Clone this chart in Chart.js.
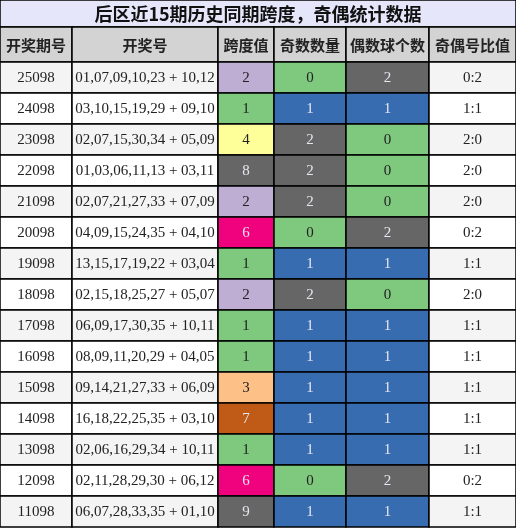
<!DOCTYPE html>
<html>
<head>
<meta charset="utf-8">
<script src="https://cdn.jsdelivr.net/npm/chart.js@4/dist/chart.umd.min.js"></script>
<style>body{margin:0;background:#fff}</style>
</head>
<body>
<canvas id="c" width="516" height="528"></canvas>
<script>
const title = '后区近15期历史同期跨度，奇偶统计数据';
const headers = ['开奖期号', '开奖号', '跨度值', '奇数数量', '偶数球个数', '奇偶号比值'];
const periods = ['25098','24098','23098','22098','21098','20098','19098','18098','17098','16098','15098','14098','13098','12098','11098'];
const draws = [
  '01,07,09,10,23 + 10,12','03,10,15,19,29 + 09,10','02,07,15,30,34 + 05,09',
  '01,03,06,11,13 + 03,11','02,07,21,27,33 + 07,09','04,09,15,24,35 + 04,10',
  '13,15,17,19,22 + 03,04','02,15,18,25,27 + 05,07','06,09,17,30,35 + 10,11',
  '08,09,11,20,29 + 04,05','09,14,21,27,33 + 06,09','16,18,22,25,35 + 03,10',
  '02,06,16,29,34 + 10,11','02,11,28,29,30 + 06,12','06,07,28,33,35 + 01,10'];
const spans = [2,1,4,8,2,6,1,2,1,1,3,7,1,6,9];
const odds  = [0,1,2,2,2,0,1,2,1,1,1,1,1,0,1];
const evens = [2,1,0,0,0,2,1,0,1,1,1,1,1,2,1];

// column edges and row edges in chart units (pixels of the 516x528 grid)
const colEdges = [0,72,218,274,346,429,516];
const titleBottom = 27, headBottom = 62, rowH = 31;

const spanColors = {1:'#7fc97f',2:'#beaed4',3:'#fdc086',4:'#ffff99',6:'#f0027f',7:'#bf5b17',8:'#666666',9:'#666666'};
const countColors = {0:'#7fc97f',1:'#386cb0',2:'#666666'};
const darkBg = ['#666666','#386cb0','#f0027f','#bf5b17'];

const tablePlugin = {
  id: 'table',
  afterDraw(chart) {
    const {ctx, scales: {x, y}} = chart;
    const px = v => x.getPixelForValue(v), py = v => y.getPixelForValue(v);
    const cell = (c0, c1, r0, r1, bg, text, font, color) => {
      const X0 = px(c0), X1 = px(c1), Y0 = py(r0), Y1 = py(r1);
      ctx.fillStyle = bg;
      ctx.fillRect(X0, Y0, X1 - X0, Y1 - Y0);
      ctx.lineWidth = 1.5;
      ctx.strokeStyle = '#000';
      ctx.strokeRect(X0, Y0, X1 - X0, Y1 - Y0);
      ctx.fillStyle = color;
      ctx.font = font;
      ctx.textAlign = 'center';
      ctx.textBaseline = 'middle';
      ctx.fillText(text, (X0 + X1) / 2, (Y0 + Y1) / 2 + 1);
    };
    ctx.save();
    cell(0, 516, 0, titleBottom, '#e6e6fa', title, 'bold 18px "Noto Sans CJK SC"', '#111');
    headers.forEach((h, i) => cell(colEdges[i], colEdges[i+1], titleBottom, headBottom, '#d3d3d3', h, 'bold 15px "Noto Sans CJK SC"', '#222'));
    const num = '15px "Liberation Serif"';
    periods.forEach((p, r) => {
      const y0 = headBottom + r * rowH, y1 = y0 + rowH;
      const bg = r % 2 === 0 ? '#f4f4f4' : '#ffffff';
      const colored = [spanColors[spans[r]], countColors[odds[r]], countColors[evens[r]]];
      const vals = [spans[r], odds[r], evens[r]];
      cell(colEdges[0], colEdges[1], y0, y1, bg, p, num, '#222');
      cell(colEdges[1], colEdges[2], y0, y1, bg, draws[r], num, '#222');
      colored.forEach((c, k) => cell(colEdges[2+k], colEdges[3+k], y0, y1, c, String(vals[k]), num,
        darkBg.includes(c) ? '#e6e6f0' : '#222'));
      cell(colEdges[5], colEdges[6], y0, y1, bg, odds[r] + ':' + evens[r], num, '#222');
    });
    ctx.restore();
  }
};

new Chart(document.getElementById('c'), {
  type: 'scatter',
  data: { datasets: [{ data: [] }] },
  options: {
    responsive: false,
    animation: false,
    layout: { padding: 0 },
    plugins: { legend: { display: false }, tooltip: { enabled: false } },
    scales: {
      x: { type: 'linear', min: 0, max: 516, display: false },
      y: { type: 'linear', min: 0, max: 528, reverse: true, display: false }
    }
  },
  plugins: [tablePlugin]
});
</script>
</body>
</html>
